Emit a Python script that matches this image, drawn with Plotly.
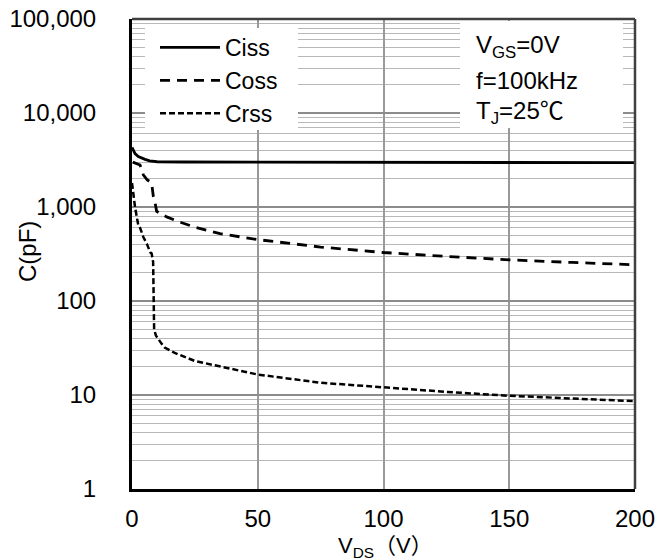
import plotly.graph_objects as go

# ---- data ----
ciss_v = [0, 0.5, 1.2, 2.5, 4, 5.2, 7, 10, 20, 50, 100, 150, 200]
ciss_c = [4300, 4000, 3700, 3450, 3300, 3215, 3100, 3030, 3010, 3000, 2990, 2980, 2960]

coss_v = [0.3, 2, 3.2, 4.5, 6, 7.8, 8.5, 9.1, 9.8, 12, 13.8, 18.4, 25, 35, 50, 75, 100, 125, 150, 175, 200]
coss_c = [3000, 2900, 2800, 2200, 1950, 1800, 1290, 1140, 900, 830, 785, 700, 610, 520, 450, 375, 328, 298, 274, 257, 243]

crss_v = [0, 0.5, 1.2, 2.5, 3.2, 4.5, 6, 7.2, 7.8, 8.4, 8.5, 8.6, 8.8, 9.5, 11, 11.8, 13, 17, 25, 35, 50, 75, 100, 125, 150, 175, 200]
crss_c = [1800, 1300, 1000, 640, 600, 480, 400, 330, 320, 260, 200, 100, 50, 43, 37, 35, 32, 28, 23, 20, 16.5, 13.5, 12, 10.8, 9.8, 9.1, 8.6]

x_ticks = [0, 50, 100, 150, 200]
y_ticks = [1, 10, 100, 1000, 10000, 100000]
y_tick_text = ["1", "10", "100", "1,000", "10,000", "100,000"]
y_minor = [m * 10 ** k for k in range(5) for m in range(2, 10)]

FONT = "Liberation Sans, Arial, Noto Sans CJK SC, sans-serif"
FS = 24

fig = go.Figure()
fig.add_trace(go.Scatter(x=ciss_v, y=ciss_c, mode="lines", name="Ciss", legendgroup="a",
                         line=dict(color="black", width=2.8)))
fig.add_trace(go.Scatter(x=coss_v, y=coss_c, mode="lines", name="Coss", legendgroup="b",
                         line=dict(color="black", width=2.8, dash="10px,7px")))
fig.add_trace(go.Scatter(x=crss_v, y=crss_c, mode="lines", name="Crss", legendgroup="c",
                         line=dict(color="black", width=2.5, dash="6px,3px")))

W, H = 661, 560
L, R, T, B = 132, 26, 19, 71
pw, ph = W - L - R, H - T - B

def px2paper_x(px):
    return (px - L) / pw

def py2paper_y(py):
    return (H - B - py) / ph

fig.update_layout(
    width=W, height=H,
    margin=dict(l=L, r=R, t=T, b=B, autoexpand=False),
    paper_bgcolor="white", plot_bgcolor="white",
    font=dict(family=FONT, size=FS, color="black"),
    showlegend=True,
    legend=dict(
        x=px2paper_x(155), y=py2paper_y(26), xanchor="left", yanchor="top",
        bgcolor="rgba(0,0,0,0)", borderwidth=0, font=dict(size=23),
        traceorder="grouped", tracegroupgap=0, itemwidth=60,
    ),
    xaxis=dict(
        range=[0, 200], tickvals=x_ticks, ticktext=[str(v) for v in x_ticks],
        showgrid=True, gridcolor="#999999", gridwidth=2,
        showline=True, linecolor="black", linewidth=3,
        ticks="", ticklabelstandoff=6, zeroline=False, automargin=False,
        tickfont=dict(size=FS),
    ),
    yaxis=dict(
        type="log", range=[0, 5], tickmode="array", tickvals=y_ticks, ticktext=y_tick_text,
        showgrid=True, gridcolor="#8c8c8c", gridwidth=2,
        minor=dict(tickmode="array", tickvals=y_minor, showgrid=True,
                   gridcolor="#b8b8b8", gridwidth=1.3),
        showline=True, linecolor="black", linewidth=3,
        ticks="", ticklabelstandoff=28, zeroline=False, automargin=False,
        tickfont=dict(size=FS),
    ),
)

# plot frame (top/right are gray)
fig.add_shape(type="line", xref="paper", yref="paper", x0=0, x1=1, y0=1, y1=1,
              line=dict(color="#404040", width=2.5), layer="above")
fig.add_shape(type="line", xref="paper", yref="paper", x0=1, x1=1, y0=0, y1=1,
              line=dict(color="#404040", width=2.5), layer="above")

# legend background box
fig.add_shape(type="rect", xref="paper", yref="paper",
              x0=px2paper_x(145), x1=px2paper_x(298), y0=py2paper_y(130), y1=py2paper_y(28),
              fillcolor="white", line=dict(width=0), layer="above")

# conditions box
fig.add_shape(type="rect", xref="paper", yref="paper",
              x0=px2paper_x(460), x1=px2paper_x(623), y0=py2paper_y(128), y1=py2paper_y(21),
              fillcolor="white", line=dict(width=0), layer="above")
for txt, py in [("V<sub>GS</sub>=0V", 46), ("f=100kHz", 80), ("T<sub>J</sub>=25℃", 113)]:
    fig.add_annotation(xref="paper", yref="paper", x=px2paper_x(474), y=py2paper_y(py),
                       xanchor="left", yanchor="middle", text=txt, showarrow=False,
                       font=dict(size=FS, family=FONT))

# axis titles
fig.add_annotation(xref="paper", yref="paper", x=px2paper_x(27), y=py2paper_y(252),
                   xanchor="center", yanchor="middle", text="C(pF)", textangle=-90,
                   showarrow=False, font=dict(size=FS, family=FONT))
fig.add_annotation(xref="paper", yref="paper", x=px2paper_x(385), y=py2paper_y(547),
                   xanchor="center", yanchor="middle", text="V<sub>DS</sub>（V）",
                   showarrow=False, borderpad=0, font=dict(size=22, family=FONT))

fig.write_html("out.html")
